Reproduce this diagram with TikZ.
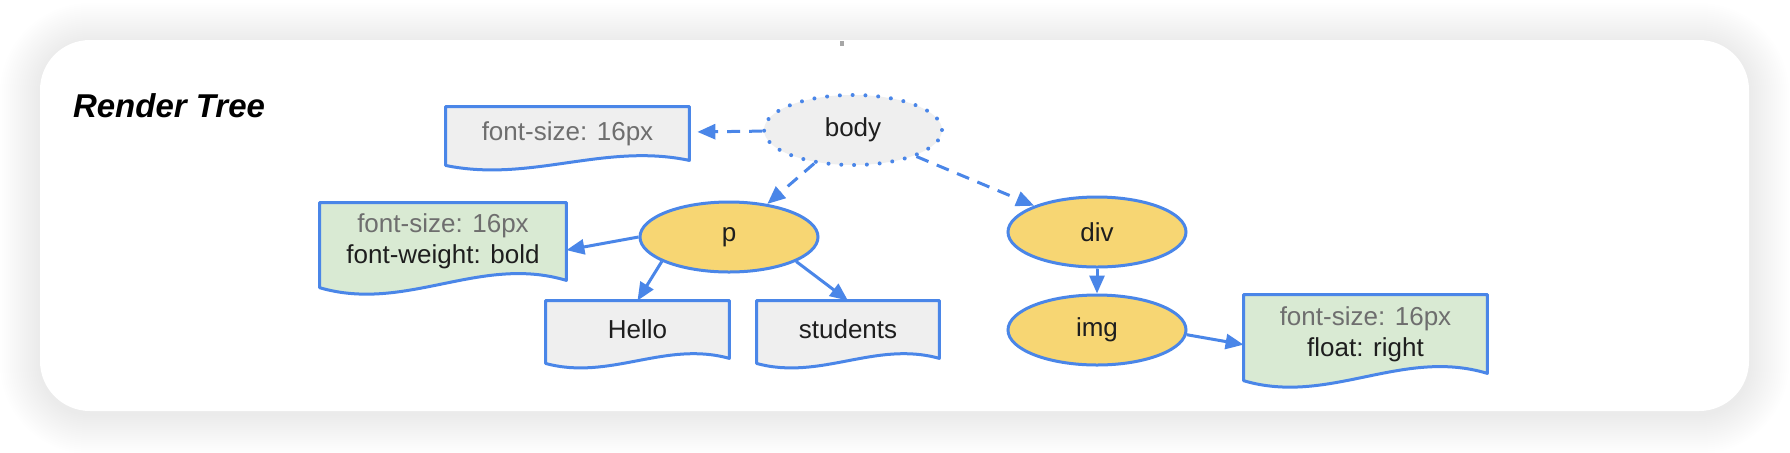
\documentclass[tikz,border=0pt]{standalone}
\usepackage{fontspec}
\setmainfont{Liberation Sans}
\usepackage{tikz}
\usetikzlibrary{calc}
\usetikzlibrary{arrows.meta}
\usetikzlibrary{shapes.geometric}
\usetikzlibrary{backgrounds}

\definecolor{lineblue}{HTML}{4A86E8}
\definecolor{docgray}{HTML}{EFEFEF}
\definecolor{docgreen}{HTML}{D9EAD3}
\definecolor{nodeyellow}{HTML}{F7D673}
\definecolor{textgray}{HTML}{6E6E6E}
\definecolor{textblack}{HTML}{1E1E1E}

\newcommand\docframe[3]{%
  \begin{pgfonlayer}{background}
  \filldraw[docline,fill=#2] ($(#1.south west)+(0,{.28*#3})$) -- (#1.north west) -- (#1.north east) -- (#1.south east)
    .. controls ($(#1.south west)!.65!(#1.south east)+(0,{-#3})$) and ($(#1.south west)!.35!(#1.south east)+(0,{1.25*#3})$) .. ($(#1.south west)+(0,{.28*#3})$) -- cycle;
  \end{pgfonlayer}}

\begin{document}
\begin{tikzpicture}[x=0.5pt, y=-0.5pt,
  font=\fontsize{13}{15.5}\selectfont,
  tagnode/.style={ellipse, draw=lineblue, line width=1.5pt, fill=nodeyellow, minimum width=89pt, minimum height=35pt, inner sep=0pt, text=textblack},
  bodynode/.style={tagnode, fill=docgray, dash pattern=on 0pt off 6.4pt, line cap=round, line width=2pt},
  docnode/.style={rectangle, inner sep=0pt, align=center, text=textblack},
  docline/.style={draw=lineblue, line width=1.5pt, line join=round},
  link/.style={-{Triangle[length=9pt,width=7.5pt]}, draw=lineblue, line width=1.5pt},
  dashlink/.style={link, dash pattern=on 6.5pt off 4.5pt}]

\useasboundingbox (0,0) rectangle (1790,452);

\begin{pgfonlayer}{background}
\fill[white] (0,0) rectangle (1790,452);
\foreach \i [evaluate=\i as \r using 25+\i] in {1,...,20}
  \fill[black, opacity=.0035, rounded corners=\r pt] ({40-2*\i},{40-2*\i+3}) rectangle ({1749+2*\i},{411+2*\i+3});
\fill[white, rounded corners=25pt] (40,40) rectangle (1749,411);
\end{pgfonlayer}
\draw[line width=2pt, gray!70] (842,41) -- (842,46);

\node[anchor=base west, font=\fontsize{16.5}{19}\selectfont\bfseries\itshape] (title) at (66,117) {Render Tree};

\node[bodynode] (body) at (853,130) {body};
\node[tagnode] (p) at (729,237) {p};
\node[tagnode] (div) at (1097,232) {div};
\node[tagnode] (img) at (1097,330) {img};

\node[docnode, minimum width=121.5pt, minimum height=26.5pt] (bodystyle) at (567.5,133.5) {\color{textgray}font-size: 16px};
\node[docnode, minimum width=123pt, minimum height=38.5pt] (pstyle) at (443,241.5) {\color{textgray}font-size: 16px\\font-weight: bold};
\node[docnode, minimum width=91.5pt, minimum height=28.5pt] (hello) at (637.5,329.5) {Hello};
\node[docnode, minimum width=91pt, minimum height=28.5pt] (students) at (848,329.5) {students};
\node[docnode, minimum width=121.5pt, minimum height=39pt] (imgstyle) at (1365.5,334) {\color{textgray}font-size: 16px\\float: right};

\docframe{bodystyle}{docgray}{18}
\docframe{pstyle}{docgreen}{26}
\docframe{hello}{docgray}{18}
\docframe{students}{docgray}{18}
\docframe{imgstyle}{docgreen}{26}

\draw[dashlink, shorten >=4pt] (body) -- (bodystyle);
\draw[dashlink] (body) -- (p);
\draw[dashlink] (body) -- (div);
\draw[link] (p.west) -- (pstyle.-4);
\draw[link] (p.200) -- (hello.north);
\draw[link] (p.-20) -- (students.north);
\draw[link] (div) -- (img);
\draw[link] (img.-3) -- (imgstyle.185);

\end{tikzpicture}
\end{document}
